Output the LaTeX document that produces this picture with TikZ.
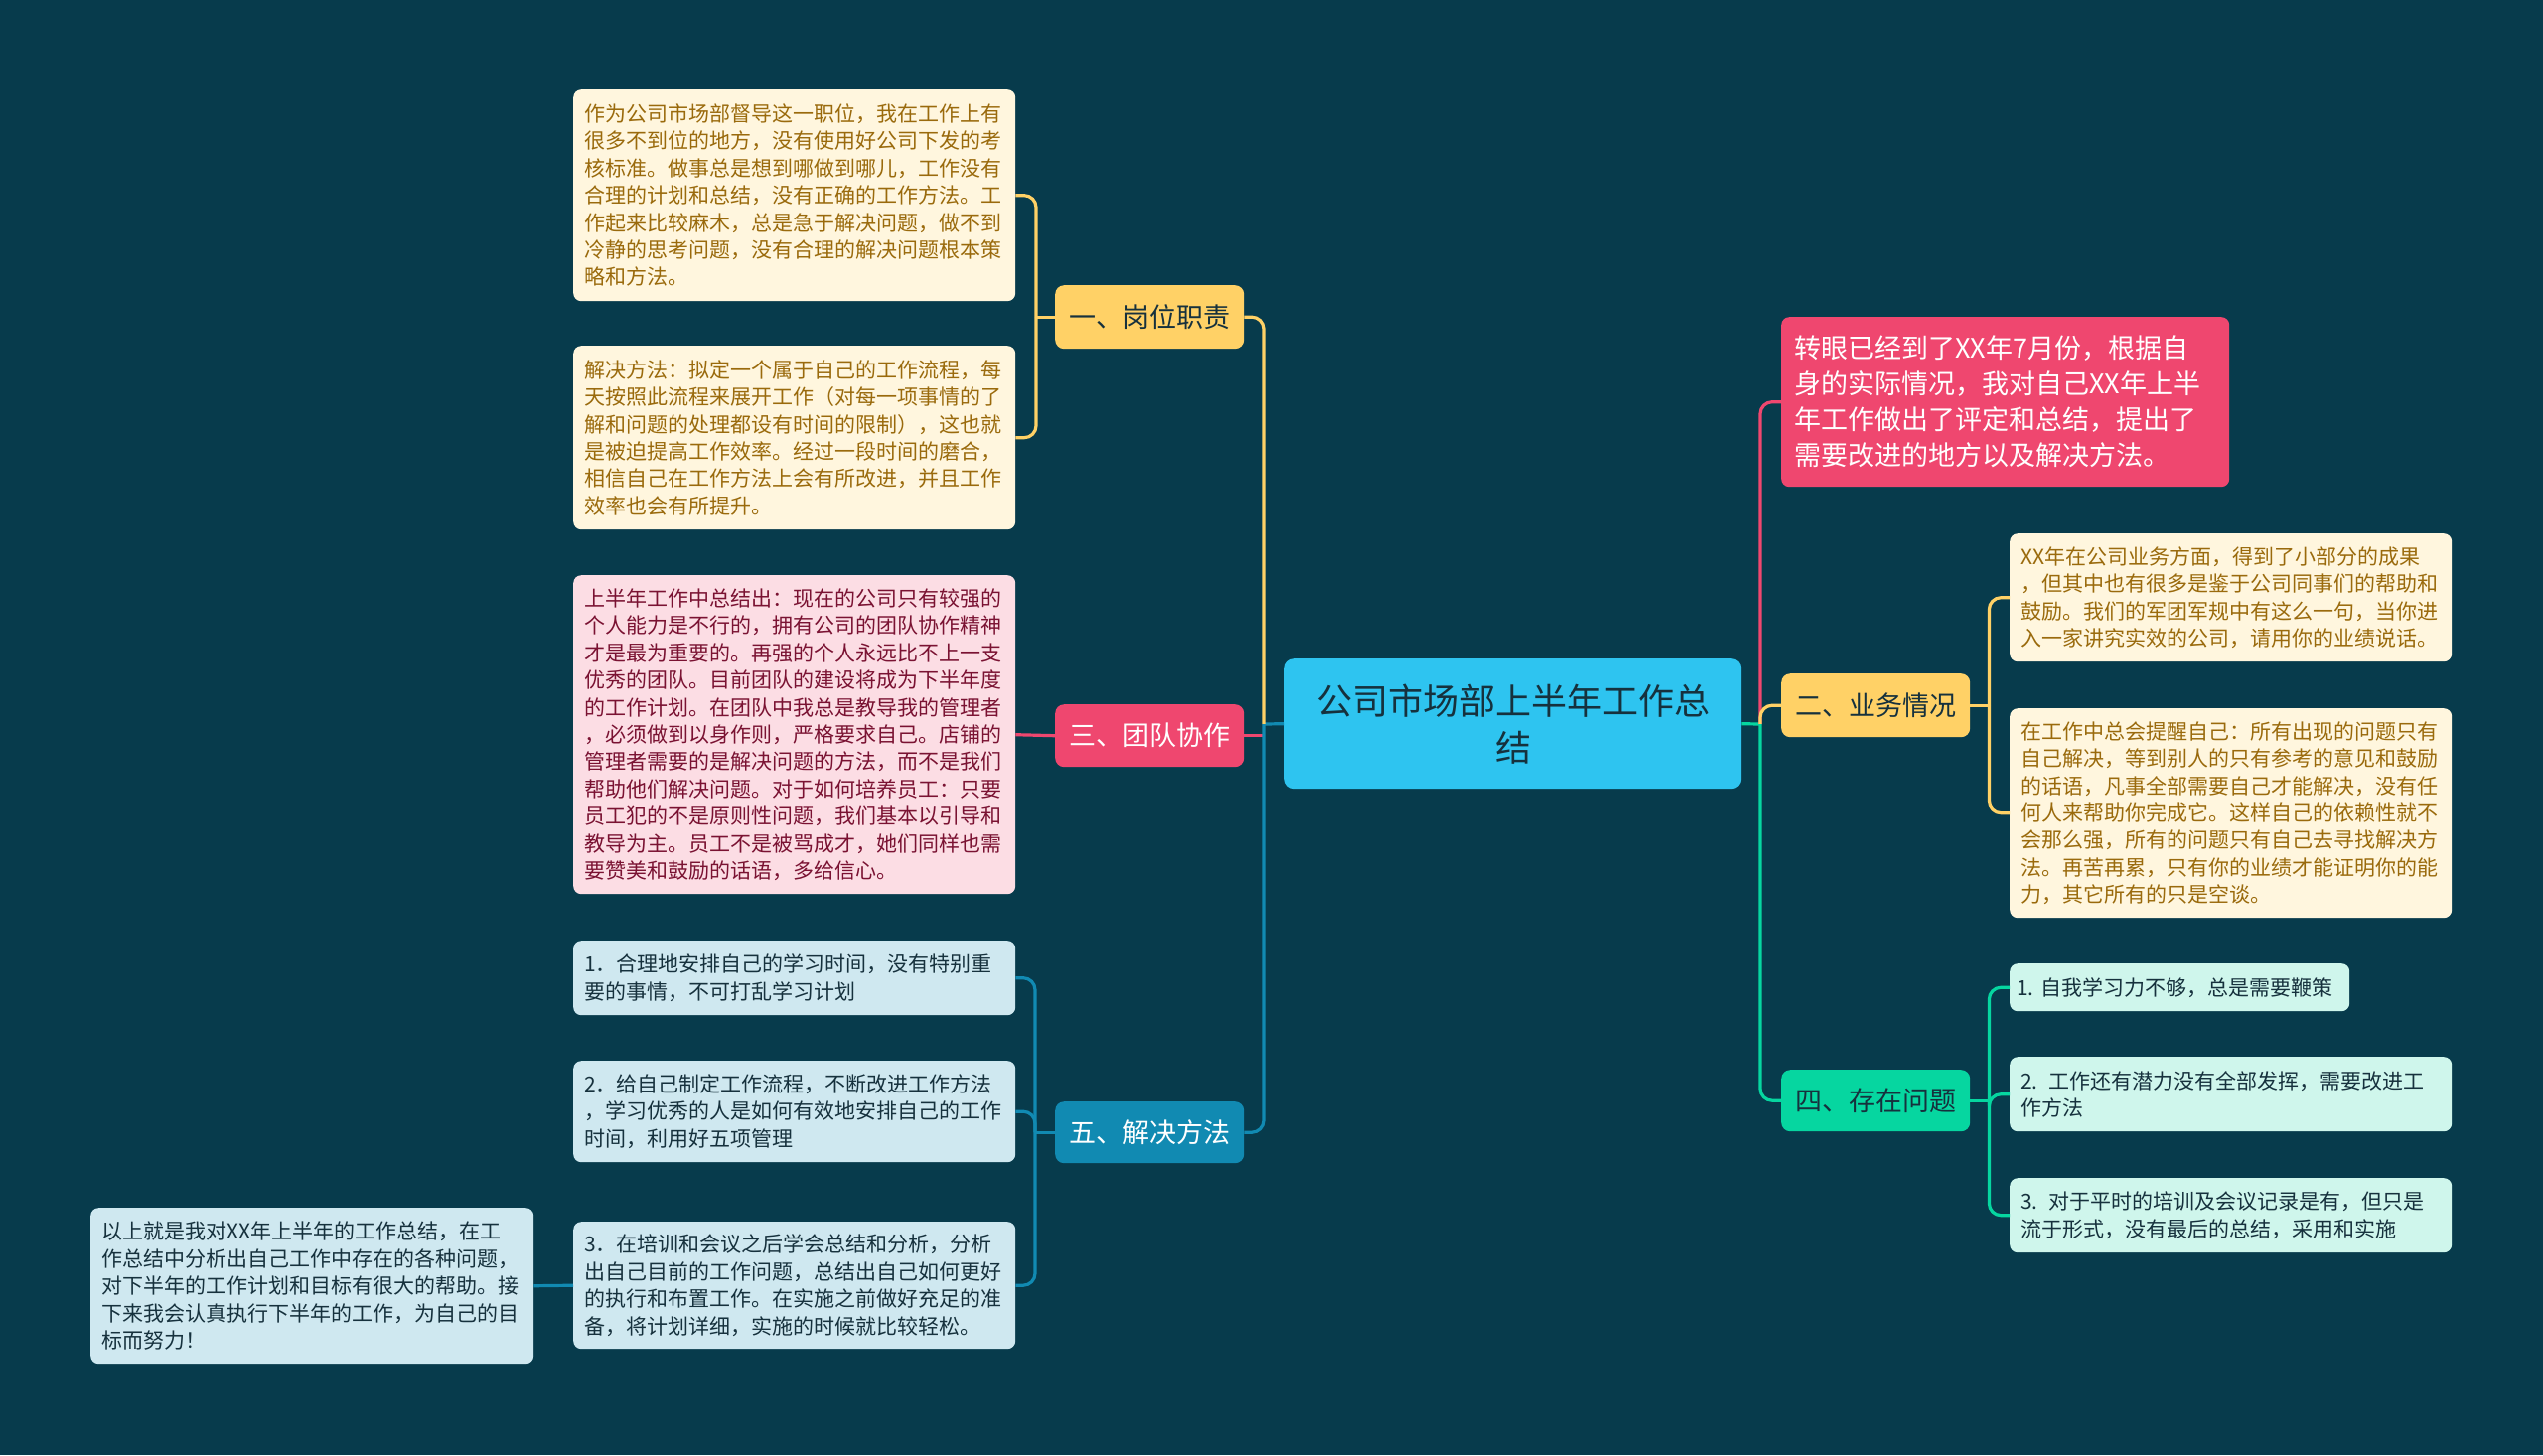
\documentclass[tikz,border=0pt]{standalone}
\usepackage{fontspec}
\newfontfamily\cjk{Noto Sans CJK SC}
\definecolor{bg}{HTML}{073B4C}
\definecolor{cyanc}{HTML}{2EC4F0}
\definecolor{yel}{HTML}{FFD166}
\definecolor{pnk}{HTML}{EF476F}
\definecolor{blu}{HTML}{118AB2}
\definecolor{grn}{HTML}{06D6A0}
\definecolor{creamfill}{HTML}{FFF6DE}
\definecolor{creamtext}{HTML}{9A6A0C}
\definecolor{pinkfill}{HTML}{FCDDE4}
\definecolor{pinktext}{HTML}{7A1232}
\definecolor{bluefill}{HTML}{CFE8F0}
\definecolor{greenfill}{HTML}{CFF6EC}
\definecolor{darktext}{HTML}{16313D}
\tikzset{
  box/.style={rounded corners=8pt, anchor=north west, inner xsep=11pt, inner ysep=0pt,
    align=left, font=\cjk\fontsize{21}{27.4}\selectfont},
  creambox/.style={box, fill=creamfill, text=creamtext},
  pinkbox/.style={box, fill=pinkfill, text=pinktext},
  bluebox/.style={box, fill=bluefill, text=darktext},
  greenbox/.style={box, fill=greenfill, text=darktext},
  branch/.style={rounded corners=9pt, anchor=north west, minimum width=190pt,
    inner sep=0pt, font=\cjk\fontsize{27}{32}\selectfont},
  conn/.style={line width=3.2pt},
  rconn/.style={line width=3.2pt, rounded corners=12pt},
}
\begin{document}
\begin{tikzpicture}[x=1pt,y=-1pt]
\fill[bg] (0,0) rectangle (2560,1465);
\useasboundingbox (0,0) rectangle (2560,1465);

% central
\node[anchor=north west, fill=cyanc, rounded corners=10pt, minimum width=460pt, minimum height=131pt,
  inner sep=0pt, align=center, text=darktext, font=\cjk\fontsize{36}{47}\selectfont]
  (c) at (1293,663) {公司市场部上半年工作总\\结};

% branches
\node[branch, fill=yel, text=darktext, minimum height=64pt] (b1) at (1062,287) {一、岗位职责};
\node[branch, fill=pnk, text=white, minimum height=63pt] (b3) at (1062,709) {三、团队协作};
\node[branch, fill=blu, text=white, minimum height=62pt] (b5) at (1062,1109) {五、解决方法};
\node[branch, fill=yel, text=darktext, minimum height=64pt] (b2) at (1793,678) {二、业务情况};
\node[branch, fill=grn, text=darktext, minimum height=62pt] (b4) at (1793,1077) {四、存在问题};

% intro
\node[anchor=north west, fill=pnk, text=white, rounded corners=8pt, inner xsep=13pt, inner ysep=0pt,
  minimum height=171pt, text width=425pt, align=left, font=\cjk\fontsize{27}{36}\selectfont]
  (intro) at (1793,319) {转眼已经到了XX年7月份，根据自\\身的实际情况，我对自己XX年上半\\年工作做出了评定和总结，提出了\\需要改进的地方以及解决方法。};

% left leaves
\node[creambox, text width=423pt, minimum height=213pt] (l1a) at (577,90)
 {作为公司市场部督导这一职位，我在工作上有\\很多不到位的地方，没有使用好公司下发的考\\核标准。做事总是想到哪做到哪儿，工作没有\\合理的计划和总结，没有正确的工作方法。工\\作起来比较麻木，总是急于解决问题，做不到\\冷静的思考问题，没有合理的解决问题根本策\\略和方法。};
\node[creambox, text width=423pt, minimum height=185pt] (l1b) at (577,348)
 {解决方法：拟定一个属于自己的工作流程，每\\天按照此流程来展开工作（对每一项事情的了\\解和问题的处理都设有时间的限制），这也就\\是被迫提高工作效率。经过一段时间的磨合，\\相信自己在工作方法上会有所改进，并且工作\\效率也会有所提升。};
\node[pinkbox, text width=423pt, minimum height=321pt] (l3) at (577,579)
 {上半年工作中总结出：现在的公司只有较强的\\个人能力是不行的，拥有公司的团队协作精神\\才是最为重要的。再强的个人永远比不上一支\\优秀的团队。目前团队的建设将成为下半年度\\的工作计划。在团队中我总是教导我的管理者\\，必须做到以身作则，严格要求自己。店铺的\\管理者需要的是解决问题的方法，而不是我们\\帮助他们解决问题。对于如何培养员工：只要\\员工犯的不是原则性问题，我们基本以引导和\\教导为主。员工不是被骂成才，她们同样也需\\要赞美和鼓励的话语，多给信心。};
\node[bluebox, text width=423pt, minimum height=75pt] (l51) at (577,947)
 {1．合理地安排自己的学习时间，没有特别重\\要的事情，不可打乱学习计划};
\node[bluebox, text width=423pt, minimum height=102pt] (l52) at (577,1068)
 {2．给自己制定工作流程，不断改进工作方法\\，学习优秀的人是如何有效地安排自己的工作\\时间，利用好五项管理};
\node[bluebox, text width=423pt, minimum height=128pt] (l53) at (577,1230)
 {3．在培训和会议之后学会总结和分析，分析\\出自己目前的工作问题，总结出自己如何更好\\的执行和布置工作。在实施之前做好充足的准\\备，将计划详细，实施的时候就比较轻松。};
\node[bluebox, text width=424pt, minimum height=157pt] (fin) at (91,1216)
 {以上就是我对XX年上半年的工作总结，在工\\作总结中分析出自己工作中存在的各种问题，\\对下半年的工作计划和目标有很大的帮助。接\\下来我会认真执行下半年的工作，为自己的目\\标而努力！};

% right leaves
\node[creambox, text width=423pt, minimum height=129pt] (r2a) at (2023,537)
 {XX年在公司业务方面，得到了小部分的成果\\，但其中也有很多是鉴于公司同事们的帮助和\\鼓励。我们的军团军规中有这么一句，当你进\\入一家讲究实效的公司，请用你的业绩说话。};
\node[creambox, text width=423pt, minimum height=211pt] (r2b) at (2023,713)
 {在工作中总会提醒自己：所有出现的问题只有\\自己解决，等到别人的只有参考的意见和鼓励\\的话语，凡事全部需要自己才能解决，没有任\\何人来帮助你完成它。这样自己的依赖性就不\\会那么强，所有的问题只有自己去寻找解决方\\法。再苦再累，只有你的业绩才能证明你的能\\力，其它所有的只是空谈。};
\node[greenbox, inner xsep=7pt, text width=328pt, minimum height=48pt] (r41) at (2023,970)
 {1.\ 自我学习力不够，总是需要鞭策};
\node[greenbox, text width=423pt, minimum height=75pt] (r42) at (2023,1064)
 {2. 工作还有潜力没有全部发挥，需要改进工\\作方法};
\node[greenbox, text width=423pt, minimum height=75pt] (r43) at (2023,1186)
 {3. 对于平时的培训及会议记录是有，但只是\\流于形式，没有最后的总结，采用和实施};

% junctions
\coordinate (jl) at (1272,729);
\coordinate (jr) at (1772,729);

% central to branches (left)
\draw[conn, blu] (c.west) -- (jl);
\draw[rconn, yel] (jl) |- (b1.east);
\draw[conn, pnk] (b3.east) -- (b3.east -| jl);
\draw[rconn, blu] (jl) |- (b5.east);
% central to branches (right)
\draw[conn, grn] (c.east) -- (jr);
\draw[rconn, pnk] (jr) |- (intro.west);
\draw[rconn, yel] (jr) |- (b2.west);
\draw[rconn, grn] (jr) |- (b4.west);

% branch 1 leaves
\draw[conn, yel] (b1.west) -- ++(-19,0) coordinate (k1);
\draw[rconn, yel] (k1) |- (l1a.east);
\draw[rconn, yel] (k1) |- (l1b.east);
% branch 3 leaf
\draw[conn, pnk] (b3.west) -- (l3.east);
% branch 5 leaves
\draw[conn, blu] (b5.west) -- ++(-20,0) coordinate (k5);
\draw[rconn, blu] (k5) |- (l51.east);
\draw[rconn, blu] (k5) |- (l52.east);
\draw[rconn, blu] (k5) |- (l53.east);
\draw[conn, blu] (l53.west) -- (fin.east);
% branch 2 leaves
\draw[conn, yel] (b2.east) -- ++(19,0) coordinate (k2);
\draw[rconn, yel] (k2) |- (r2a.west);
\draw[rconn, yel] (k2) |- (r2b.west);
% branch 4 leaves
\draw[conn, grn] (b4.east) -- ++(19,0) coordinate (k4);
\draw[rconn, grn] (k4) |- (r41.west);
\draw[rconn, grn] (k4) |- (r42.west);
\draw[rconn, grn] (k4) |- (r43.west);
\end{tikzpicture}
\end{document}
